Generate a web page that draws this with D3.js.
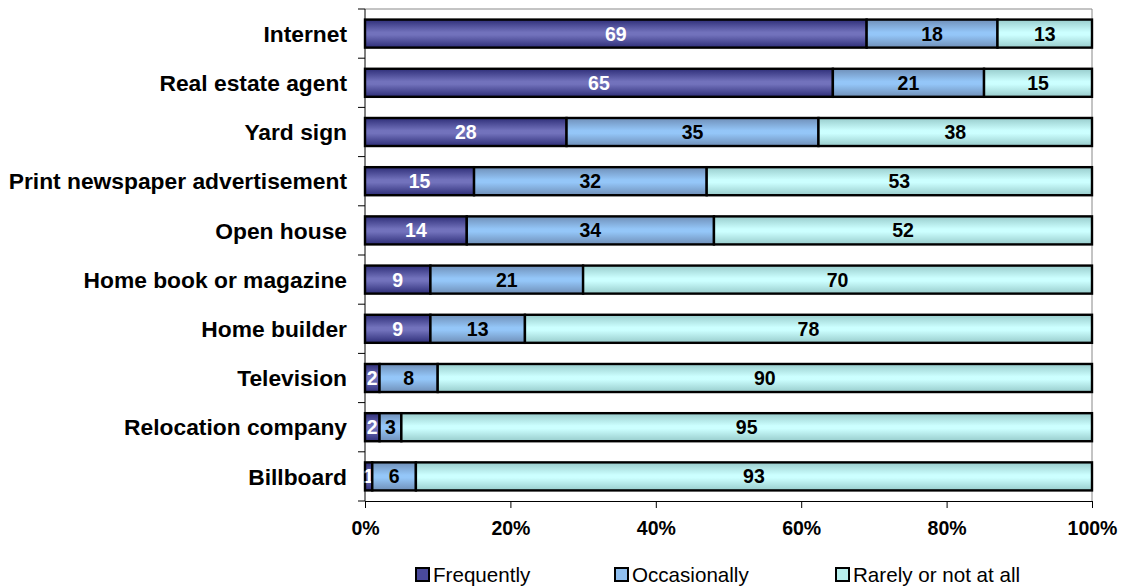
<!DOCTYPE html>
<html>
<head>
<meta charset="utf-8">
<script src="https://cdn.jsdelivr.net/npm/d3@7"></script>
<style>
  html, body { margin: 0; padding: 0; background: #fff; }
  svg { display: block; font-family: "Liberation Sans", Arial, sans-serif; }
</style>
</head>
<body>
<svg id="chart" width="1128" height="587"></svg>
<script>
// Sources used to find a home, share of buyers by how often each was used (%)
const categories = [
  "Internet", "Real estate agent", "Yard sign", "Print newspaper advertisement",
  "Open house", "Home book or magazine", "Home builder", "Television",
  "Relocation company", "Billboard"
];
const frequently   = [69, 65, 28, 15, 14,  9,  9,  2,  2,  1];
const occasionally = [18, 21, 35, 32, 34, 21, 13,  8,  3,  6];
const rarely       = [13, 15, 38, 53, 52, 70, 78, 90, 95, 93];
const seriesNames  = ["Frequently", "Occasionally", "Rarely or not at all"];
const tickValues   = [0, 0.2, 0.4, 0.6, 0.8, 1];

const svg = d3.select("#chart");
const margin = { left: 365, right: 36, top: 9, bottom: 86 };
const W = 1128, H = 587;

const rows = categories.map((c, i) => ({
  category: c,
  [seriesNames[0]]: frequently[i],
  [seriesNames[1]]: occasionally[i],
  [seriesNames[2]]: rarely[i]
}));

// 100% stacked: each row is normalised to its own total
const stacked = d3.stack().keys(seriesNames).offset(d3.stackOffsetExpand)(rows);

const x = d3.scaleLinear().domain([0, 1]).range([margin.left, W - margin.right]);
const y = d3.scaleBand().domain(categories).range([margin.top, H - margin.bottom])
  .paddingInner(0.43).paddingOuter(0.215);

// tube-style vertical gradients per series
const gradStops = [
  [["0%", "#2e2e78"], ["45%", "#7272bc"], ["55%", "#7272bc"], ["100%", "#2e2e78"]],
  [["0%", "#6f8fb8"], ["45%", "#94c6f8"], ["55%", "#94c6f8"], ["100%", "#6f8fb8"]],
  [["0%", "#98cccc"], ["45%", "#ccffff"], ["55%", "#ccffff"], ["100%", "#98cccc"]]
];
const flat = ["#4a4a9c", "#8fbff0", "#b8f0ee"];
const defs = svg.append("defs");
gradStops.forEach((stops, i) => {
  const g = defs.append("linearGradient").attr("id", "g" + i)
    .attr("x1", 0).attr("y1", 0).attr("x2", 0).attr("y2", 1);
  stops.forEach(s => g.append("stop").attr("offset", s[0]).attr("stop-color", s[1]));
});

// plot area frame (top and right edges)
svg.append("path")
  .attr("d", `M${x(0)},${margin.top}H${x(1)}V${H - margin.bottom}`)
  .attr("fill", "none").attr("stroke", "#888").attr("stroke-width", 1);

// bars
const layer = svg.selectAll("g.layer").data(stacked).join("g").attr("class", "layer");
layer.selectAll("rect").data(d => d.map(v => ({ v, key: d.key })))
  .join("rect")
  .attr("x", d => x(d.v[0]))
  .attr("y", d => y(d.v.data.category))
  .attr("width", d => x(d.v[1]) - x(d.v[0]))
  .attr("height", y.bandwidth())
  .attr("fill", d => `url(#g${seriesNames.indexOf(d.key)})`)
  .attr("stroke", "#000").attr("stroke-width", 2.4);

// value labels
layer.selectAll("text").data(d => d.map(v => ({ v, key: d.key })))
  .join("text")
  .attr("x", d => (x(d.v[0]) + x(d.v[1])) / 2)
  .attr("y", d => y(d.v.data.category) + y.bandwidth() / 2)
  .attr("dy", "0.36em")
  .attr("text-anchor", "middle")
  .attr("font-size", 19.5).attr("font-weight", "bold")
  .attr("fill", d => d.key === seriesNames[0] ? "#fff" : "#000")
  .text(d => d.v.data[d.key]);

// y axis
const yAxis = svg.append("g").attr("transform", `translate(${x(0)},0)`);
yAxis.append("line").attr("y1", margin.top).attr("y2", H - margin.bottom)
  .attr("stroke", "#000");
const bounds = d3.range(categories.length + 1).map(i => margin.top + i * y.step());
yAxis.selectAll("line.tk").data(bounds).join("line").attr("class", "tk")
  .attr("x1", -7).attr("x2", 0).attr("y1", d => d).attr("y2", d => d)
  .attr("stroke", "#000");
yAxis.selectAll("text").data(categories).join("text")
  .attr("x", -18)
  .attr("y", d => y(d) + y.bandwidth() / 2)
  .attr("dy", "0.36em")
  .attr("text-anchor", "end")
  .attr("font-size", 22.8).attr("font-weight", "bold")
  .text(d => d);

// x axis
const xAxis = svg.append("g").attr("transform", `translate(0,${H - margin.bottom})`)
  .call(d3.axisBottom(x).tickValues(tickValues).tickFormat(d3.format(".0%"))
    .tickSizeInner(7).tickSizeOuter(0).tickPadding(13));
xAxis.select(".domain").attr("stroke", "#000");
xAxis.selectAll(".tick line").attr("stroke", "#000");
xAxis.selectAll(".tick text").attr("font-size", 19.5).attr("font-weight", "bold")
  .attr("fill", "#000").attr("font-family", "Liberation Sans, Arial, sans-serif");

// legend
const legendX = [416, 615, 836];
const legend = svg.append("g").selectAll("g").data(seriesNames).join("g")
  .attr("transform", (d, i) => `translate(${legendX[i]},568)`);
legend.append("rect").attr("width", 13).attr("height", 13)
  .attr("fill", (d, i) => flat[i]).attr("stroke", "#000").attr("stroke-width", 2);
legend.append("text").attr("x", 17).attr("y", 6.5).attr("dy", "0.36em")
  .attr("font-size", 20.6).text(d => d);
</script>
</body>
</html>
